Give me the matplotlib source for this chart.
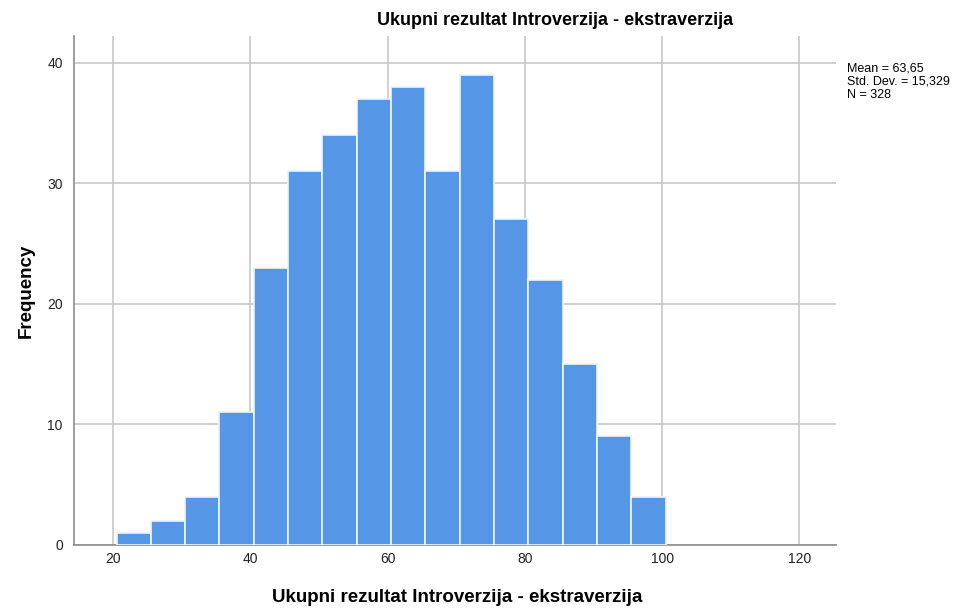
import numpy as np
import matplotlib
matplotlib.use("Agg")
import matplotlib.pyplot as plt

plt.rcParams['font.family'] = ['Liberation Sans', 'DejaVu Sans']

# bin edges (width 5) and counts
bin_start = 20.5
bin_width = 5
counts = [1, 2, 4, 11, 23, 31, 34, 37, 38, 31, 39, 27, 22, 15, 9, 4]
xticks = [20, 40, 60, 80, 100, 120]
yticks = [0, 10, 20, 30, 40]
stats_text = "Mean = 63,65\nStd. Dev. = 15,329\nN = 328"
title = "Ukupni rezultat Introverzija - ekstraverzija"

edges = bin_start + bin_width * np.arange(len(counts) + 1)

fig = plt.figure(figsize=(9.68, 6.1), dpi=100)
ax = fig.add_axes([0.0764, 0.1066, 0.787, 0.8344])

ax.bar(edges[:-1], counts, width=bin_width, align='edge',
       color='#5596E6', edgecolor='#EEF4FC', linewidth=1.2, zorder=3)

ax.set_xlim(14.3, 125.3)
ax.set_ylim(0, 42.2)
ax.set_xticks(xticks)
ax.set_yticks(yticks)
ax.grid(True, color='#C8C8C8', linewidth=1.2, zorder=0)
ax.set_axisbelow(True)

for s in ['top', 'right']:
    ax.spines[s].set_visible(False)
for s in ['left', 'bottom']:
    ax.spines[s].set_color('#8C8C8C')
    ax.spines[s].set_linewidth(1.2)

ax.tick_params(length=0, labelsize=10, colors='#222222')
ax.tick_params(axis='x', pad=5)
ax.tick_params(axis='y', pad=8)

ax.set_ylabel("Frequency", fontsize=13.5, fontweight='bold', labelpad=9)

fig.text(0.472, 0.021, title, ha='center', va='center',
         fontsize=13.5, fontweight='bold')
fig.text(0.573, 0.967, title, ha='center', va='center',
         fontsize=13, fontweight='bold')
fig.text(0.875, 0.897, stats_text, ha='left', va='top', fontsize=9,
         linespacing=1.1)

fig.savefig("out.png", dpi=100)
